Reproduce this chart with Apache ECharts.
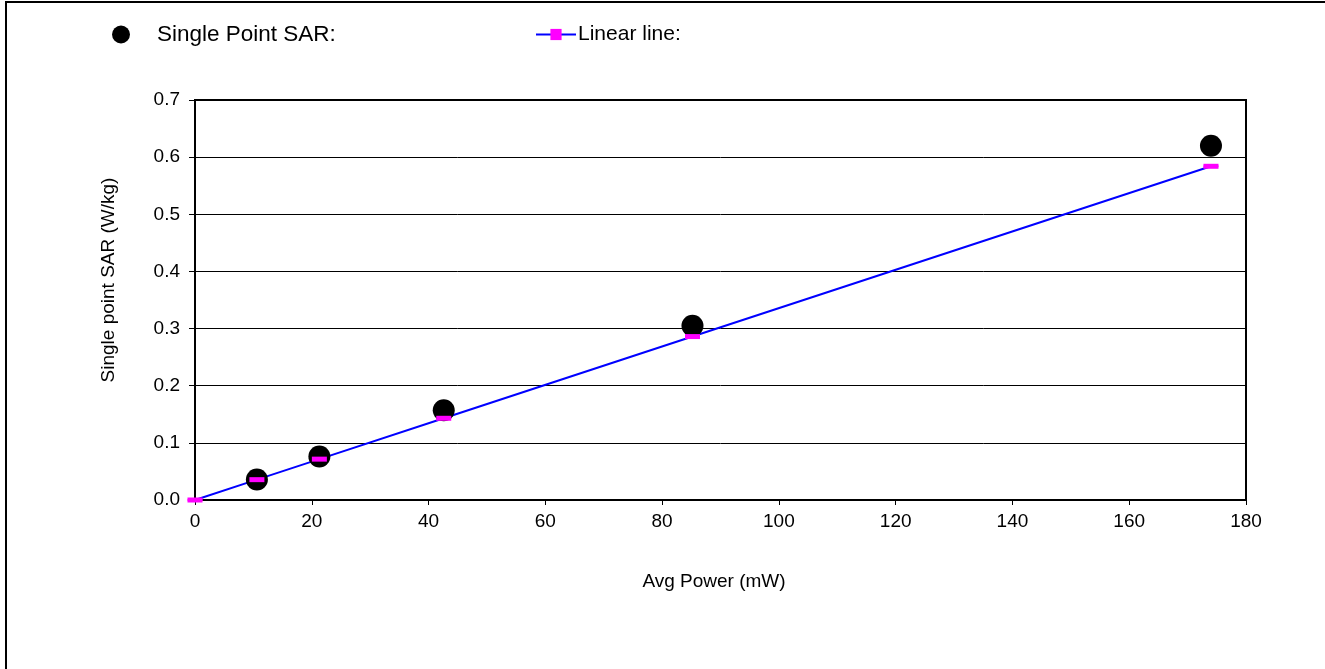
<!DOCTYPE html>
<html>
<head>
<meta charset="utf-8">
<script src="https://cdn.jsdelivr.net/npm/echarts@6/dist/echarts.min.js"></script>
<style>
  html, body { margin: 0; padding: 0; background: #fff; }
  #chart { width: 1325px; height: 669px; }
</style>
</head>
<body>
<div id="chart"></div>
<script>
// Measured single point SAR against averaged output power
const power = [10.6, 21.3, 42.6, 85.2, 174.0];
const sar = [0.036, 0.076, 0.157, 0.305, 0.620];

// Linear reference line through the origin
const linePower = [0, 10.6, 21.3, 42.6, 85.2, 174.0];
const lineSar = [0, 0.0356, 0.0715, 0.143, 0.286, 0.584];

// Axis ticks
const xTicks = [0, 20, 40, 60, 80, 100, 120, 140, 160, 180];
const yTicks = [0.0, 0.1, 0.2, 0.3, 0.4, 0.5, 0.6, 0.7];

const FONT = 'Liberation Sans, Arial, sans-serif';
const pairs = (xs, ys) => xs.map((x, i) => [x, ys[i]]);
const rectMark = 'path://M0,0h15v5h-15z';

const chart = echarts.init(document.getElementById('chart'), null, { renderer: 'canvas' });

chart.setOption({
  animation: false,
  backgroundColor: '#fff',
  textStyle: { fontFamily: FONT },
  grid: {
    left: 195, top: 100, width: 1051, height: 400,
    show: true, borderColor: '#000', borderWidth: 2, backgroundColor: 'transparent'
  },
  legend: [
    {
      data: ['Single Point SAR:'],
      left: 107, top: 18,
      itemWidth: 62, itemHeight: 18,
      icon: 'circle',
      itemStyle: { opacity: 1 },
      textStyle: { fontSize: 22.5, color: '#000', fontFamily: FONT }
    },
    {
      data: ['Linear line:'],
      left: 530, top: 19,
      itemWidth: 40, itemHeight: 14,
      textStyle: { fontSize: 21, color: '#000', fontFamily: FONT, padding: [0, 0, 0, -3] }
    }
  ],
  xAxis: {
    type: 'value',
    min: xTicks[0], max: xTicks[xTicks.length - 1], interval: 20,
    axisLine: { show: true, onZero: false, lineStyle: { color: '#000', width: 2 } },
    axisTick: { show: true, inside: false, length: 5, lineStyle: { color: '#000', width: 1 } },
    axisLabel: { fontSize: 19, color: '#000', margin: 12, fontFamily: FONT },
    splitLine: { show: false }
  },
  yAxis: {
    type: 'value',
    min: yTicks[0], max: yTicks[yTicks.length - 1], interval: 0.1,
    axisLine: { show: true, onZero: false, lineStyle: { color: '#000', width: 2 } },
    axisTick: { show: true, inside: false, length: 6, lineStyle: { color: '#000', width: 1 } },
    axisLabel: { fontSize: 19, color: '#000', margin: 15, fontFamily: FONT,
                 formatter: v => v.toFixed(1) },
    splitLine: { show: true, lineStyle: { color: '#000', width: 1 } }
  },
  series: [
    {
      name: 'Linear line:',
      type: 'line',
      data: pairs(linePower, lineSar),
      z: 1,
      lineStyle: { color: '#0000ff', width: 2 },
      itemStyle: { color: '#ff00ff', opacity: 1 },
      symbol: rectMark,
      symbolSize: [15, 5],
      symbolKeepAspect: true,
      showAllSymbol: true
    },
    {
      name: 'Single Point SAR:',
      type: 'scatter',
      data: pairs(power, sar),
      z: 2,
      symbol: 'circle',
      symbolSize: 22,
      itemStyle: { color: '#000', opacity: 1 }
    },
    {
      // linear-line markers drawn again above the dots
      name: 'linear-markers',
      type: 'scatter',
      data: pairs(linePower, lineSar),
      z: 3,
      symbol: rectMark,
      symbolSize: [15, 5],
      itemStyle: { color: '#ff00ff', opacity: 1 },
      silent: true
    }
  ],
  graphic: [
    {
      type: 'polyline',
      shape: { points: [[6, 669], [6, 2], [1325, 2]] },
      style: { stroke: '#000', lineWidth: 2, fill: null },
      silent: true
    },
    {
      type: 'text',
      x: 714, y: 582,
      style: { text: 'Avg Power (mW)', font: '19px ' + FONT, fill: '#000',
               textAlign: 'center', textVerticalAlign: 'middle' }
    },
    {
      type: 'text',
      x: 109, y: 280,
      rotation: Math.PI / 2,
      style: { text: 'Single point SAR (W/kg)', font: '19px ' + FONT, fill: '#000',
               textAlign: 'center', textVerticalAlign: 'middle' }
    }
  ]
});
</script>
</body>
</html>
